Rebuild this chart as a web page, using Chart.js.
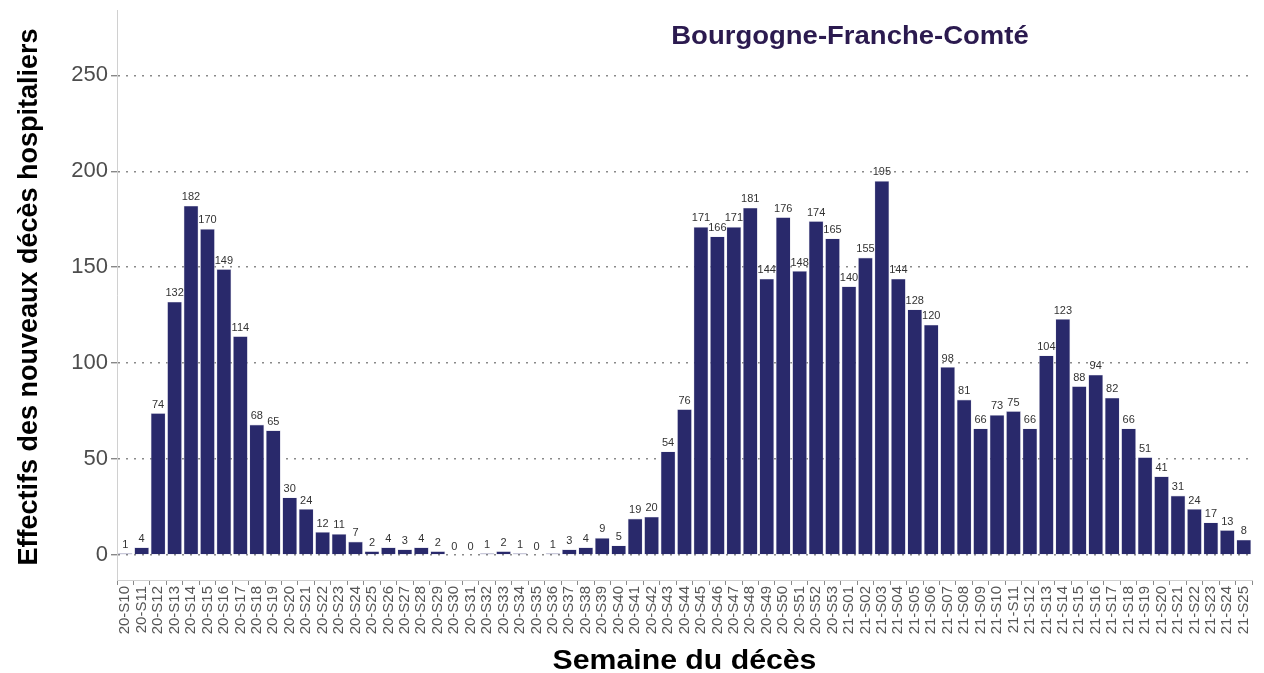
<!DOCTYPE html>
<html>
<head>
<meta charset="utf-8">
<script src="https://cdn.jsdelivr.net/npm/chart.js@4/dist/chart.umd.min.js"></script>
<style>
  html, body { margin: 0; padding: 0; background: #fff; }
  #wrap { width: 1264px; height: 673px; position: relative; }
</style>
</head>
<body>
<div id="wrap"><canvas id="deces" width="1264" height="673"></canvas></div>
<script>
// weeks of death, 2020 then 2021
const weeks2020 = ['20-S10','20-S11','20-S12','20-S13','20-S14','20-S15','20-S16','20-S17','20-S18','20-S19',
  '20-S20','20-S21','20-S22','20-S23','20-S24','20-S25','20-S26','20-S27','20-S28','20-S29',
  '20-S30','20-S31','20-S32','20-S33','20-S34','20-S35','20-S36','20-S37','20-S38','20-S39',
  '20-S40','20-S41','20-S42','20-S43','20-S44','20-S45','20-S46','20-S47','20-S48','20-S49',
  '20-S50','20-S51','20-S52','20-S53'];
const weeks2021 = ['21-S01','21-S02','21-S03','21-S04','21-S05','21-S06','21-S07','21-S08','21-S09','21-S10',
  '21-S11','21-S12','21-S13','21-S14','21-S15','21-S16','21-S17','21-S18','21-S19','21-S20',
  '21-S21','21-S22','21-S23','21-S24','21-S25'];

const deaths2020 = [1, 4, 74, 132, 182, 170, 149, 114, 68, 65,
  30, 24, 12, 11, 7, 2, 4, 3, 4, 2,
  0, 0, 1, 2, 1, 0, 1, 3, 4, 9,
  5, 19, 20, 54, 76, 171, 166, 171, 181, 144,
  176, 148, 174, 165];
const deaths2021 = [140, 155, 195, 144, 128, 120, 98, 81, 66, 73,
  75, 66, 104, 123, 88, 94, 82, 66, 51, 41,
  31, 24, 17, 13, 8];

const yTicks = [0, 50, 100, 150, 200, 250];

const labels = [...weeks2020, ...weeks2021];
const values = [...deaths2020, ...deaths2021];

const FONT = '"Liberation Sans", Arial, sans-serif';

// value labels on top of each bar
const barLabels = {
  id: 'barLabels',
  afterDatasetsDraw(chart) {
    const ctx = chart.ctx;
    const meta = chart.getDatasetMeta(0);
    ctx.save();
    ctx.font = '11px ' + FONT;
    ctx.fillStyle = '#333333';
    ctx.textAlign = 'center';
    ctx.textBaseline = 'bottom';
    meta.data.forEach((bar, i) => {
      ctx.fillText(String(values[i]), bar.x, bar.y - 3);
    });
    ctx.restore();
  }
};

// panel title and axis titles (slightly stretched like the original)
function stretchedText(ctx, text, x, y, font, color, sx, rot) {
  ctx.save();
  ctx.translate(x, y);
  if (rot) ctx.rotate(rot);
  ctx.scale(sx, 1);
  ctx.font = font;
  ctx.fillStyle = color;
  ctx.textAlign = 'center';
  ctx.textBaseline = 'middle';
  ctx.fillText(text, 0, 0);
  ctx.restore();
}

const titles = {
  id: 'titles',
  afterDraw(chart) {
    const ctx = chart.ctx;
    const area = chart.chartArea;
    stretchedText(ctx, 'Bourgogne-Franche-Comté', 850, 37, 'bold 25px ' + FONT, '#2b1a4f', 1.1, 0);
    stretchedText(ctx, 'Semaine du décès', (area.left + area.right) / 2, 661, 'bold 28px ' + FONT, '#000', 1.08, 0);
    stretchedText(ctx, 'Effectifs des nouveaux décès hospitaliers', 30, 297, 'bold 27px ' + FONT, '#000', 1, -Math.PI / 2);
  }
};

new Chart(document.getElementById('deces'), {
  type: 'bar',
  data: {
    labels: labels,
    datasets: [{
      data: values,
      backgroundColor: '#29296b',
      borderColor: '#d8d8e4',
      borderWidth: 0.6,
      barPercentage: 0.9,
      categoryPercentage: 1.0
    }]
  },
  options: {
    responsive: false,
    animation: false,
    layout: { padding: { top: 10, right: 12, bottom: 0, left: 0 } },
    scales: {
      x: {
        offset: true,
        grid: { display: true, drawOnChartArea: false, tickLength: 5, color: '#888' },
        border: { display: true, color: '#d0d0d0', width: 1 },
        ticks: {
          autoSkip: false, maxRotation: 90, minRotation: 90,
          font: { family: FONT, size: 15 }, color: '#555555', padding: 1
        },
        afterFit(scale) { scale.height = 93; }
      },
      y: {
        min: -13,
        max: 284,
        afterBuildTicks(scale) { scale.ticks = yTicks.map(v => ({ value: v })); },
        grid: {
          color: '#8a8a8a', lineWidth: 1.4,
          tickLength: 6, tickBorderDash: [], tickColor: '#888'
        },
        border: { display: true, color: '#d0d0d0', width: 1, dash: [2, 6] },
        ticks: { font: { family: FONT, size: 22 }, color: '#4d4d4d', padding: 3 },
        afterFit(scale) { scale.width = 117; scale.paddingTop = 0; scale.paddingBottom = 0; }
      }
    },
    plugins: {
      legend: { display: false },
      tooltip: { enabled: false }
    }
  },
  plugins: [barLabels, titles]
});
</script>
</body>
</html>
